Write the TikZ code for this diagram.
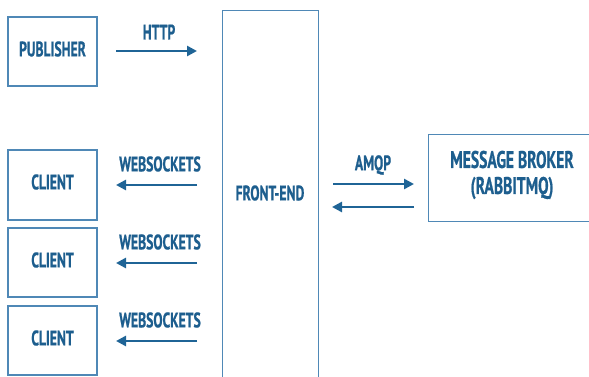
\documentclass[tikz,border=0pt]{standalone}
\usepackage{fontspec}
\setmainfont{PT Sans}[FakeStretch=0.65, BoldFeatures={FakeBold=0.8}]
\usetikzlibrary{arrows.meta}
\definecolor{txtc}{HTML}{1D5E8E}
\definecolor{boxc}{HTML}{4F88B6}
\definecolor{arrc}{HTML}{1F6496}
\tikzset{
  box/.style={draw=boxc, line width=1.3pt, inner sep=0pt},
  lbl/.style={text=txtc, font=\bfseries\fontsize{21}{22}\selectfont, inner sep=0pt},
  big/.style={text=txtc, font=\bfseries\fontsize{24}{26}\selectfont, inner sep=0pt, align=center},
  arr/.style={draw=arrc, line width=2.7pt, -{Triangle[length=10pt,width=10pt]}}
}
\begin{document}
\begin{tikzpicture}[x=1pt,y=-1pt]
\useasboundingbox (0,0) rectangle (589,377);
\begin{scope}
\clip (0,0) rectangle (589,377);
\node[box, minimum width=89pt, minimum height=69pt] (pub) at (52.5,51.5) {};
\node[lbl] (publ) at (52.5,49) {PUBLISHER};
\node[box, minimum width=89pt, minimum height=70pt] (c1) at (52.5,185) {};
\node[box, minimum width=89pt, minimum height=69pt] (c2) at (52.5,262.5) {};
\node[box, minimum width=89pt, minimum height=69pt] (c3) at (52.5,340.5) {};
\node[lbl] (c1l) at (52.5,182) {CLIENT};
\node[lbl] (c2l) at (52.5,260) {CLIENT};
\node[lbl] (c3l) at (52.5,338) {CLIENT};
\node[box, minimum width=96pt, minimum height=400pt, anchor=north west] (fe) at (222,10) {};
\node[lbl] (fel) at (270,193) {FRONT-END};
\node[box, minimum width=200pt, minimum height=87pt, anchor=north west] (mb) at (428,134) {};
\node[big] (mbl) at (512,175) {MESSAGE BROKER\\(RABBITMQ)};
\end{scope}
% labels
\node[lbl] (http) at (159,32) {HTTP};
\node[lbl] (ws1) at (160,164) {WEBSOCKETS};
\node[lbl] (ws2) at (160,242) {WEBSOCKETS};
\node[lbl] (ws3) at (160,320) {WEBSOCKETS};
\node[lbl] (amqp) at (373,165) {AMQP};
% arrows
\coordinate (h1) at (116,51);
\coordinate (h2) at (197,51);
\draw[arr] (h1) -- (h2);
\coordinate (w1a) at (197,185); \coordinate (w1b) at (116,185);
\coordinate (w2a) at (197,263); \coordinate (w2b) at (116,263);
\coordinate (w3a) at (197,341); \coordinate (w3b) at (116,341);
\draw[arr] (w1a) -- (w1b);
\draw[arr] (w2a) -- (w2b);
\draw[arr] (w3a) -- (w3b);
\coordinate (a1) at (333,184); \coordinate (a2) at (414,184);
\coordinate (b1) at (414,207); \coordinate (b2) at (332,207);
\draw[arr] (a1) -- (a2);
\draw[arr] (b1) -- (b2);
\end{tikzpicture}
\end{document}
